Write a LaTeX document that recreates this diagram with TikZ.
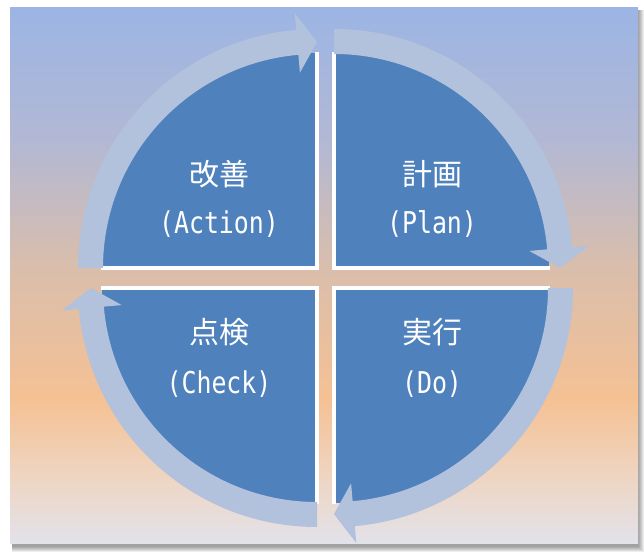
\documentclass[tikz,border=0pt]{standalone}
\usepackage{fontspec}
\newfontfamily\jpfont{Noto Sans CJK JP}
\newfontfamily\latfont[FakeStretch=0.83]{DejaVu Sans Mono}
\definecolor{quadblue}{RGB}{79,129,189}
\definecolor{arrowc}{RGB}{178,193,220}
\definecolor{bgA}{RGB}{156,181,228}
\definecolor{bgB}{RGB}{178,184,212}
\definecolor{bgC}{RGB}{218,190,171}
\definecolor{bgD}{RGB}{245,193,148}
\definecolor{bgE}{RGB}{238,214,196}
\definecolor{bgF}{RGB}{226,226,234}
\pgfdeclareverticalshading{bgshade}{100bp}{color(0bp)=(bgF); color(25bp)=(bgF); color(30.89bp)=(bgE); color(38.36bp)=(bgD); color(50.51bp)=(bgC); color(62.66bp)=(bgB); color(75bp)=(bgA); color(100bp)=(bgA)}
\newcommand\cycarrow[2]{%
  \pgfmathsetmacro\bA{#2-85}%
  \pgfmathsetmacro\tA{#2-90}%
  \fill[cyc] ([shift={(#2:239)}]#1) arc[start angle=#2,end angle=\bA,radius=239]
    -- ([shift={(\bA:256)}]#1) -- ([shift={(\tA:226)}]#1) -- ([shift={(\bA:196)}]#1)
    -- ([shift={(\bA:214)}]#1) arc[start angle=\bA,end angle=#2,radius=214] -- cycle;}
\newcommand\quadrant[2]{%
  \pgfmathsetmacro\qE{#2-90}%
  \fill[quadfill] (#1) -- ++(#2:215) arc[start angle=#2,end angle=\qE,radius=215] -- cycle;
  \draw[quadedge] ([shift={(#2:216)}]#1) -- (#1) -- ([shift={(\qE:216)}]#1);}
\begin{document}
\begin{tikzpicture}[x=1pt,y=1pt,
  quadfill/.style={fill=quadblue},
  quadedge/.style={draw=white, line width=4.5pt, line join=miter},
  cyc/.style={fill=arrowc},
  jp/.style={text=white, inner sep=0pt, font=\jpfont\fontsize{30}{36}\selectfont},
  lat/.style={text=white, inner sep=0pt, font=\latfont\fontsize{30}{36}\selectfont}]
\useasboundingbox (0,0) rectangle (644,552);
\fill[white] (0,0) rectangle (644,552);
% shadow
\foreach \k in {0,...,5}{\fill[black,opacity=0.07] (12,\k) rectangle (644-\k,542);}
% background
\shade[shading=bgshade] (10,9) rectangle (638,544);
% corners
\coordinate (cTL) at (317,284);
\coordinate (cTR) at (334,284);
\coordinate (cBL) at (317,264);
\coordinate (cBR) at (334,264);
% quadrants
\quadrant{cTL}{180}
\quadrant{cTR}{90}
\quadrant{cBR}{0}
\quadrant{cBL}{-90}
% cycle arrows
\cycarrow{cTL}{180}
\cycarrow{cTR}{90}
\cycarrow{cBR}{0}
\cycarrow{cBL}{-90}
% labels
\node[jp]  (actJ) at (219,378) {改善};
\node[lat] (actL) at (219,327.5) {(Action)};
\node[jp]  (plnJ) at (432,378) {計画};
\node[lat] (plnL) at (432,327.5) {(Plan)};
\node[jp]  (chkJ) at (219,220) {点検};
\node[lat] (chkL) at (219,168) {(Check)};
\node[jp]  (doJ)  at (432,220) {実行};
\node[lat] (doL)  at (432,168) {(Do)};
\end{tikzpicture}
\end{document}
